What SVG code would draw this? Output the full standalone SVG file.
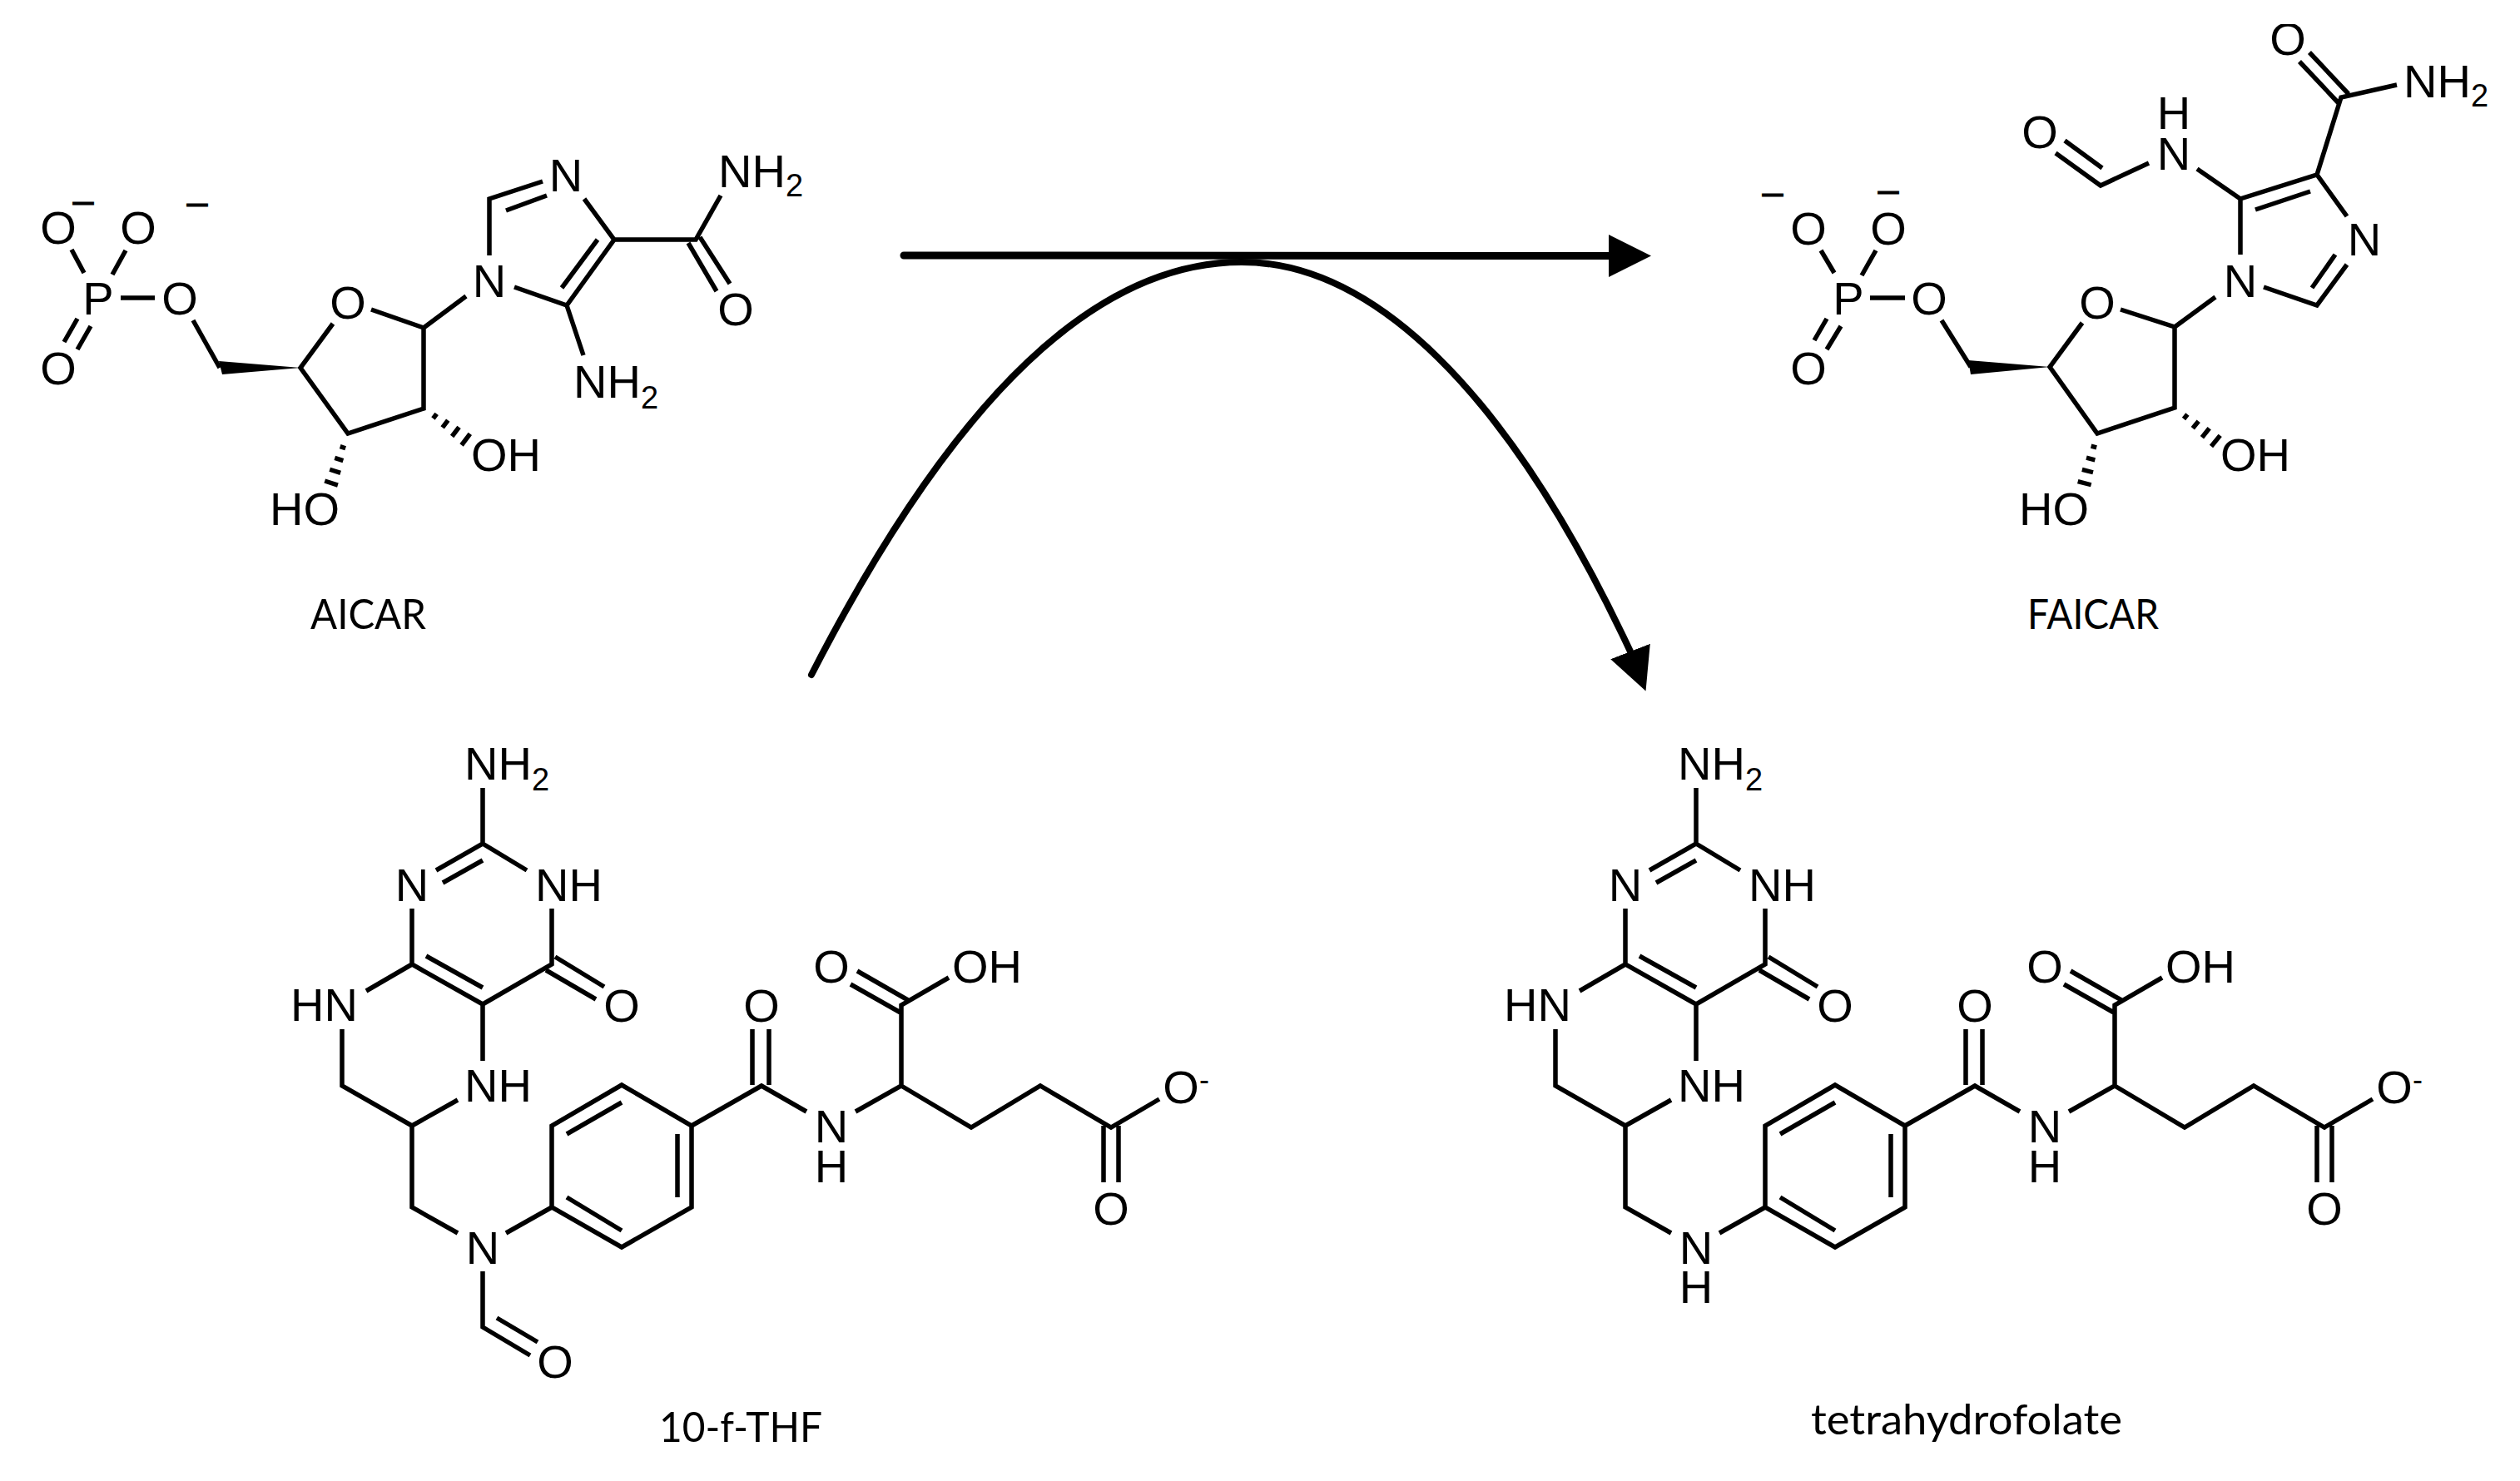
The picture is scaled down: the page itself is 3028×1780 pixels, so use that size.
<svg xmlns="http://www.w3.org/2000/svg" xmlns:xlink="http://www.w3.org/1999/xlink" width="3028" height="1780" viewBox="0 0 3028 1780">
<style>
.b{fill:none;stroke:#000;stroke-width:5.5;stroke-linejoin:miter}
.w{fill:#000}
.t{font-family:"Liberation Sans",Arial,sans-serif;font-size:56px;fill:#000}
.m{text-anchor:middle}
.s{font-size:38px}
.d{font-size:45px;stroke:#000;stroke-width:1}
.c{font-family:Lato,"Open Sans",sans-serif;font-size:50px;fill:#000}
.a{fill:none;stroke:#000;stroke-linecap:round}
.h{stroke:#000;stroke-width:5.5}
</style>
<defs>
<g id="hash">
<line class="h" x1="17" y1="-3.5" x2="17" y2="3.5"/>
<line class="h" x1="32.5" y1="-5.5" x2="32.5" y2="5.5"/>
<line class="h" x1="48" y1="-7" x2="48" y2="7"/>
<line class="h" x1="63.5" y1="-8.5" x2="63.5" y2="8.5"/>
</g>
<clipPath id="topclip"><rect x="2700" y="29" width="100" height="60"/></clipPath>
<marker id="head" markerUnits="userSpaceOnUse" markerWidth="54" markerHeight="54" refX="0" refY="25.5" orient="auto"><polygon points="0,0 51,25.5 0,51" fill="#000"/></marker>
<marker id="head2" markerUnits="userSpaceOnUse" markerWidth="54" markerHeight="54" refX="0" refY="25.5" orient="68.7"><polygon points="0,0 51,25.5 0,51" fill="#000"/></marker>
</defs>

<g id="aicar">
<path class="b" d="M86 300L101 328M151 301L135 330M145 358H186M93 383L77 411M109 392L93 420M232 385L264 442"/>
<polygon class="w" points="361,442 263,434 267,450"/>
<path class="b" d="M400 389L361 442L418 521L509 491L509 394L446 372M509 394L560 356"/>
<path class="b" d="M588 307V239L652 218M608 253L657 235M702 239L738 288L681 367L618 345M718 288L675 346M681 367L701 427M738 288H836L866 235M827 292L861 350M841 285L877 341"/>
<use xlink:href="#hash" href="#hash" transform="translate(509,490) rotate(37)"/>
<use xlink:href="#hash" href="#hash" transform="translate(417,522) rotate(107.9) scale(.97)"/>
<text class="t m" x="70" y="293">O</text>
<text class="t m" x="166" y="293">O</text>
<text class="t m" x="118" y="378">P</text>
<text class="t m" x="216" y="378">O</text>
<text class="t m" x="70" y="462">O</text>
<text class="t m d" x="100" y="256">–</text>
<text class="t m d" x="237" y="258">–</text>
<text class="t m" x="418" y="383">O</text>
<text class="t m" x="588" y="357">N</text>
<text class="t m" x="680" y="230">N</text>
<text class="t" x="863" y="225">NH<tspan class="s" dy="11">2</tspan></text>
<text class="t" x="689" y="478">NH<tspan class="s" dy="13">2</tspan></text>
<text class="t m" x="884" y="391">O</text>
<text class="t" x="566" y="566">OH</text>
<text class="t" x="324" y="631">HO</text>
<text class="c" x="373" y="756" textLength="139" lengthAdjust="spacingAndGlyphs">AICAR</text>
</g>

<g id="faicar">
<path class="b" d="M2188 301L2204 328M2254 301L2237 331M2247 358H2289M2195 383L2180 409M2212 392L2195 420M2333 385L2368 441"/>
<polygon class="w" points="2463,441 2365,433 2368,450"/>
<path class="b" d="M2502 388L2463 441L2520 521L2613 490V393L2548 372M2613 393L2662 357"/>
<path class="b" d="M2692 306V239L2784 210L2820 260M2710 252L2776 230M2820 318L2784 367L2720 345M2806 306L2778 346M2692 239L2640 203M2582 196L2524 223L2470 184M2526 202L2481 169M2784 210L2813 117L2880 102M2810 124L2763 74M2822 113L2775 63"/>
<use xlink:href="#hash" href="#hash" transform="translate(2613,490) rotate(39)"/>
<use xlink:href="#hash" href="#hash" transform="translate(2520,521) rotate(104.4) scale(.97)"/>
<text class="t m" x="2173" y="294">O</text>
<text class="t m" x="2269" y="294">O</text>
<text class="t m" x="2221" y="378">P</text>
<text class="t m" x="2318" y="378">O</text>
<text class="t m" x="2173" y="462">O</text>
<text class="t m d" x="2130" y="246">–</text>
<text class="t m d" x="2269" y="243">–</text>
<text class="t m" x="2520" y="383">O</text>
<text class="t m" x="2692" y="357">N</text>
<text class="t m" x="2841" y="307">N</text>
<text class="t m" x="2612" y="204">N</text>
<text class="t m" x="2612" y="155">H</text>
<text class="t m" x="2451" y="178">O</text>
<text class="t m" x="2749" y="66" clip-path="url(#topclip)">O</text>
<text class="t" x="2888" y="117">NH<tspan class="s" dy="11">2</tspan></text>
<text class="t" x="2668" y="566">OH</text>
<text class="t" x="2426" y="631">HO</text>
<text class="c" x="2436" y="756" textLength="158" lengthAdjust="spacingAndGlyphs">FAICAR</text>
</g>

<g id="formyl-thf">
<path class="b" d="M580 947V1014L524 1046M580 1034L532 1061M580 1014L633 1046M495 1092V1159L580 1207L663 1159V1092M512 1149L580 1187M667 1150L726 1186M656 1166L716 1201M495 1159L440 1191M411 1237V1305L495 1353L550 1322M580 1207V1275M495 1353V1451L550 1482M608 1482L663 1451"/>
<path class="b" d="M580 1528V1595L637 1629M597 1584L646 1613"/>
<path class="b" d="M663 1451V1353L747 1304L831 1353V1451L747 1499ZM681 1363L747 1325M814 1363V1439M681 1439L747 1479M831 1353L915 1305L969 1336M904 1304V1237M924 1304V1237M1028 1336L1083 1305V1208L1140 1175M1091 1202L1030 1167M1082 1217L1022 1183M1083 1305L1167 1355L1250 1305L1335 1355L1393 1321M1326 1353V1421M1344 1353V1421"/>
<text class="t" x="558" y="937">NH<tspan class="s" dy="13">2</tspan></text>
<text class="t m" x="495" y="1083">N</text>
<text class="t" x="643" y="1083">NH</text>
<text class="t m" x="747" y="1228">O</text>
<text class="t" x="349" y="1227">HN</text>
<text class="t" x="558" y="1324">NH</text>
<text class="t m" x="580" y="1519">N</text>
<text class="t m" x="667" y="1656">O</text>
<text class="t m" x="915" y="1228">O</text>
<text class="t m" x="999" y="1373">N</text>
<text class="t m" x="999" y="1421">H</text>
<text class="t m" x="999" y="1181">O</text>
<text class="t" x="1144" y="1181">OH</text>
<text class="t m" x="1419" y="1326">O</text>
<text class="t" x="1441" y="1310" style="font-size:36px">-</text>
<text class="t m" x="1335" y="1472">O</text>
<text class="c" x="792" y="1733" textLength="196" lengthAdjust="spacingAndGlyphs">10-f-THF</text>
</g>

<g id="tetrahydrofolate">
<g transform="translate(1458,0)">
<path class="b" d="M580 947V1014L524 1046M580 1034L532 1061M580 1014L633 1046M495 1092V1159L580 1207L663 1159V1092M512 1149L580 1187M667 1150L726 1186M656 1166L716 1201M495 1159L440 1191M411 1237V1305L495 1353L550 1322M580 1207V1275M495 1353V1451L550 1482M608 1482L663 1451"/>
<path class="b" d="M663 1451V1353L747 1304L831 1353V1451L747 1499ZM681 1363L747 1325M814 1363V1439M681 1439L747 1479M831 1353L915 1305L969 1336M904 1304V1237M924 1304V1237M1028 1336L1083 1305V1208L1140 1175M1091 1202L1030 1167M1082 1217L1022 1183M1083 1305L1167 1355L1250 1305L1335 1355L1393 1321M1326 1353V1421M1344 1353V1421"/>
<text class="t" x="558" y="937">NH<tspan class="s" dy="13">2</tspan></text>
<text class="t m" x="495" y="1083">N</text>
<text class="t" x="643" y="1083">NH</text>
<text class="t m" x="747" y="1228">O</text>
<text class="t" x="349" y="1227">HN</text>
<text class="t" x="558" y="1324">NH</text>
<text class="t m" x="580" y="1519">N</text>
<text class="t m" x="580" y="1566">H</text>
<text class="t m" x="915" y="1228">O</text>
<text class="t m" x="999" y="1373">N</text>
<text class="t m" x="999" y="1421">H</text>
<text class="t m" x="999" y="1181">O</text>
<text class="t" x="1144" y="1181">OH</text>
<text class="t m" x="1419" y="1326">O</text>
<text class="t" x="1441" y="1310" style="font-size:36px">-</text>
<text class="t m" x="1335" y="1472">O</text>
</g>
<text class="c" x="2176" y="1724" textLength="374" lengthAdjust="spacingAndGlyphs">tetrahydrofolate</text>
</g>

<g id="connectors">
<path class="a" stroke-width="9" d="M1086 307L1933 307.5" marker-end="url(#head)"/>
<path class="a" stroke-width="8" d="M975 811C1150 470 1320 315 1492 315C1647 315 1810 465 1959 783" marker-end="url(#head2)"/>
</g>
</svg>
